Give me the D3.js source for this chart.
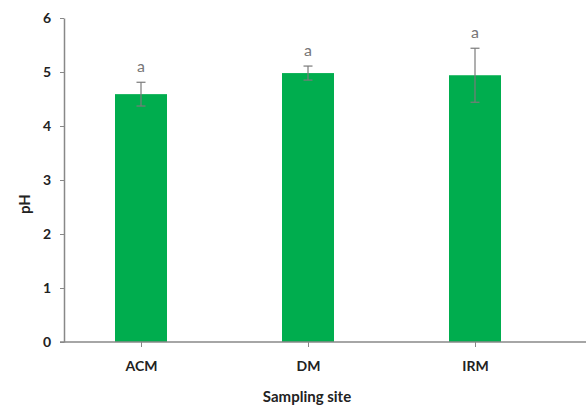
<!DOCTYPE html>
<html>
<head>
<meta charset="utf-8">
<script src="https://cdn.jsdelivr.net/npm/d3@7"></script>
<style>
  body { margin: 0; background: #fff; }
  text { font-family: Lato, "Open Sans", sans-serif; }
</style>
</head>
<body>
<svg id="chart" width="586" height="406"></svg>
<script>
// data
const sites = ['ACM', 'DM', 'IRM'];
const phMeans = [4.59, 4.98, 4.94];
const phErrors = [0.22, 0.13, 0.50];
const groupLetters = ['a', 'a', 'a'];
const yTicks = [0, 1, 2, 3, 4, 5, 6];

const svg = d3.select('#chart');

const plotLeft = 64, plotRight = 586, plotTop = 18, plotBottom = 342;
const barWidth = 52;

const x = d3.scalePoint()
  .domain(sites)
  .range([141, 475]);

const y = d3.scaleLinear()
  .domain([0, 6])
  .range([plotBottom, plotTop]);

// bars
svg.selectAll('.bar')
  .data(sites)
  .enter().append('rect')
  .attr('class', 'bar')
  .attr('x', (d) => x(d) - barWidth / 2)
  .attr('width', barWidth)
  .attr('y', (d, i) => y(phMeans[i]))
  .attr('height', (d, i) => plotBottom - y(phMeans[i]))
  .style('fill', '#00ad4e');

// error bars
const err = svg.selectAll('.err')
  .data(sites)
  .enter().append('g')
  .attr('class', 'err')
  .attr('stroke', '#7a7a7a')
  .attr('stroke-width', 1.2);

err.append('line')
  .attr('x1', (d) => x(d))
  .attr('x2', (d) => x(d))
  .attr('y1', (d, i) => y(phMeans[i] + phErrors[i]))
  .attr('y2', (d, i) => y(phMeans[i] - phErrors[i]));

err.append('line')
  .attr('x1', (d) => x(d) - 4.5)
  .attr('x2', (d) => x(d) + 4.5)
  .attr('y1', (d, i) => y(phMeans[i] + phErrors[i]))
  .attr('y2', (d, i) => y(phMeans[i] + phErrors[i]));

err.append('line')
  .attr('x1', (d) => x(d) - 4.5)
  .attr('x2', (d) => x(d) + 4.5)
  .attr('y1', (d, i) => y(phMeans[i] - phErrors[i]))
  .attr('y2', (d, i) => y(phMeans[i] - phErrors[i]));

// significance letters
svg.selectAll('.letter')
  .data(sites)
  .enter().append('text')
  .attr('class', 'letter')
  .attr('x', (d) => x(d))
  .attr('y', (d, i) => y(phMeans[i] + phErrors[i]) - 10)
  .style('text-anchor', 'middle')
  .style('font-size', '16px')
  .style('fill', '#777')
  .text((d, i) => groupLetters[i]);

// y axis
const yAxis = svg.append('g')
  .attr('transform', 'translate(' + plotLeft + ',0)')
  .call(d3.axisLeft(y).tickValues(yTicks).tickFormat(d3.format('d')).tickSize(4).tickSizeOuter(0).tickPadding(9));
yAxis.select('.domain').attr('stroke', '#888').attr('stroke-width', 1.5);
yAxis.selectAll('.tick line').attr('stroke', '#888');
yAxis.selectAll('.tick text')
  .style('font-size', '14px')
  .style('font-weight', 'bold')
  .style('fill', '#222')
  .style('font-family', 'Lato, sans-serif');

// x axis
svg.append('line')
  .attr('x1', plotLeft - 4)
  .attr('x2', plotRight)
  .attr('y1', plotBottom)
  .attr('y2', plotBottom)
  .attr('stroke', '#888')
  .attr('stroke-width', 1.5);

const xAxis = svg.append('g')
  .attr('transform', 'translate(0,' + plotBottom + ')')
  .call(d3.axisBottom(x).tickSize(5).tickPadding(14));
xAxis.select('.domain').remove();
xAxis.selectAll('.tick line').attr('stroke', '#888');
xAxis.selectAll('.tick text')
  .style('font-size', '14px')
  .style('font-weight', 'bold')
  .style('fill', '#222')
  .style('font-family', 'Lato, sans-serif');

// axis titles
svg.append('text')
  .attr('transform', 'translate(30,204) rotate(-90)')
  .style('text-anchor', 'middle')
  .style('font-size', '15px')
  .style('font-weight', 'bold')
  .style('fill', '#222')
  .text('pH');

svg.append('text')
  .attr('x', 307)
  .attr('y', 402)
  .style('text-anchor', 'middle')
  .style('font-size', '15px')
  .style('font-weight', 'bold')
  .style('fill', '#222')
  .text('Sampling site');
</script>
</body>
</html>
